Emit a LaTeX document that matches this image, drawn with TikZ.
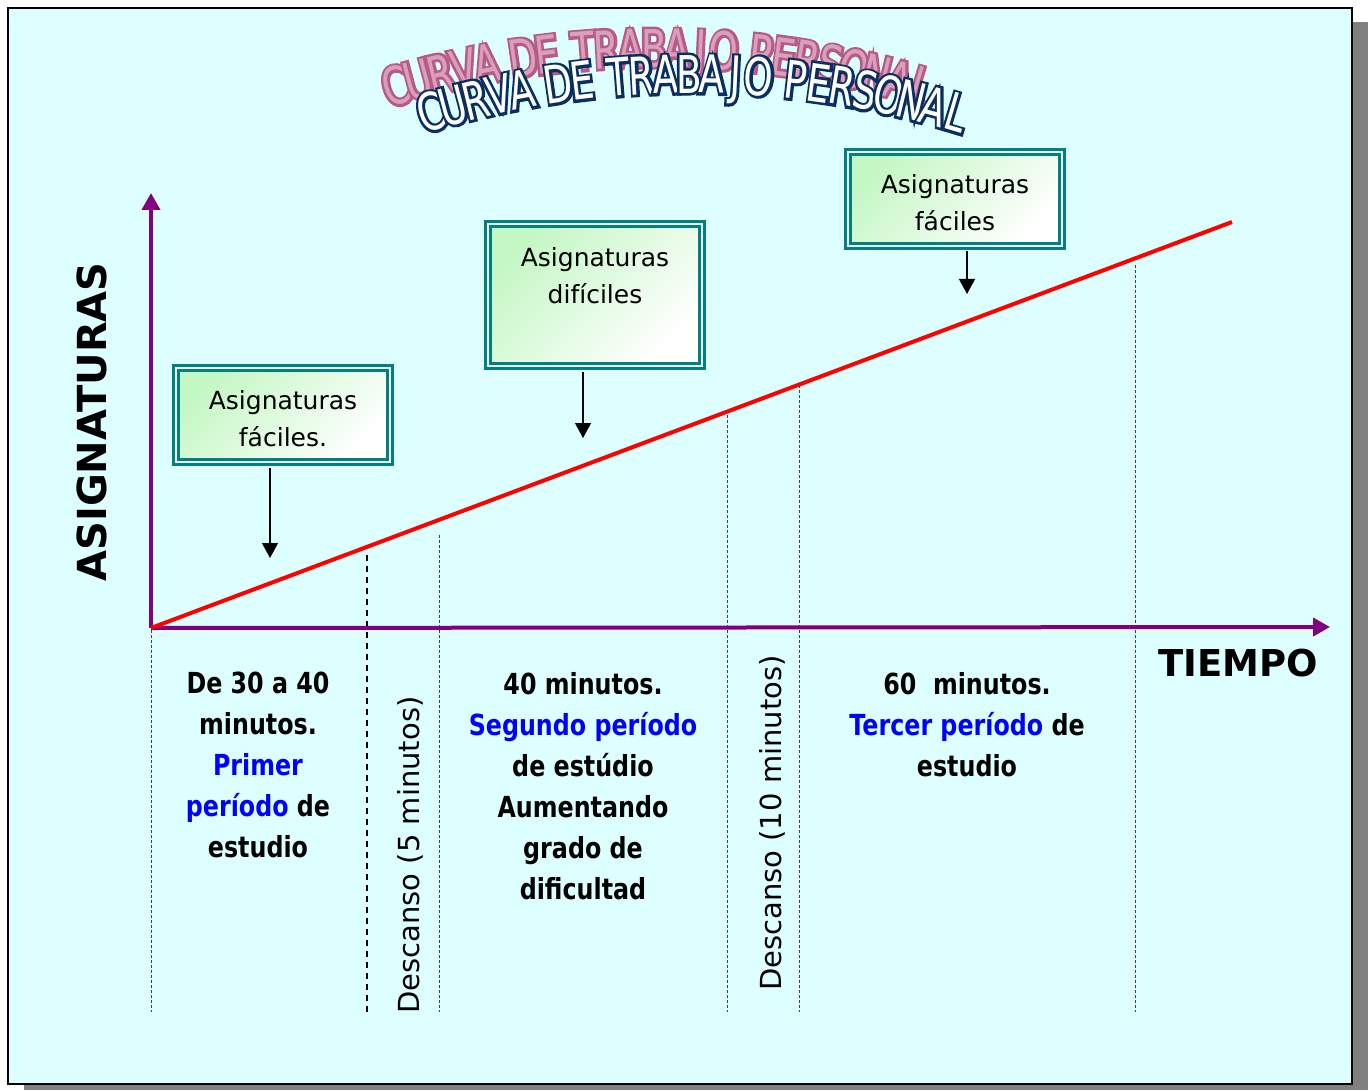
\documentclass[tikz,border=0pt]{standalone}
\usepackage{fontspec}
\setmainfont{DejaVu Sans}
\newfontfamily\bodyfont[FakeStretch=0.82]{DejaVu Sans}
\newfontfamily\titlefont[FakeStretch=0.72]{DejaVu Sans}
\newfontfamily\titlerim[FakeStretch=0.72,FakeBold=10]{DejaVu Sans}
\usetikzlibrary{arrows.meta}

\definecolor{panel}{HTML}{DDFFFF}
\definecolor{panelshadow}{HTML}{808080}
\definecolor{axispurple}{HTML}{800080}
\definecolor{boxteal}{HTML}{008080}
\definecolor{boxgreen}{HTML}{C4F7C4}
\definecolor{periodblue}{HTML}{0000FF}
\definecolor{titlenavy}{HTML}{0A2F5E}
\definecolor{titlepink}{HTML}{B85A86}
\definecolor{titlepinkfill}{HTML}{D9A0BC}

\begin{document}
\begin{tikzpicture}[x=0.5pt,y=-0.5pt,
    axis/.style={line width=2pt,axispurple,-{Triangle[length=8.5pt,width=9pt]}},
    guide/.style={line width=0.5pt,black!75,dash pattern=on 1.5pt off 1pt},
    subject/.style={draw=boxteal,line width=1.5pt,double=panel!40!white,double distance=1pt,
        top color=boxgreen,bottom color=white,shading angle=45,
        minimum width=107pt,minimum height=47pt,align=center,text height=32pt,
        font=\fontsize{12.5}{18.5}\selectfont},
    pointer/.style={line width=0.6pt,shorten <=2pt,-{Triangle[length=7.5pt,width=8pt]}},
    period/.style={anchor=north,inner sep=0pt,align=center,
        font=\bodyfont\bfseries\fontsize{14.5}{20.5}\selectfont},
    rest/.style={rotate=90,inner sep=0pt,font=\fontsize{14.5}{17}\selectfont},
    letter/.style={anchor=base,inner sep=0pt,font=\titlefont\fontsize{26}{26}\selectfont},
    rim/.style={anchor=base,inner sep=0pt,font=\titlerim\fontsize{26}{26}\selectfont},
  ]
  % page with its drop shadow
  \useasboundingbox (0,0) rectangle (1370,1091);
  \fill[white] (0,0) rectangle (1370,1091);
  \fill[panelshadow] (24,22) rectangle (1368,1090);
  \filldraw[fill=panel,draw=black,line width=1pt] (8,8) rectangle (1352,1084);

  % arched title: pink shadow, then the outlined letters
  \foreach \ch/\t in {C/-16.4,U/-14.95,R/-13.5,V/-12.05,A/-10.6,
                      D/-8.3,E/-6.85,
                      T/-4.55,R/-3.1,A/-1.65,B/-0.2,A/1.25,J/2.7,O/4.15,
                      P/6.45,E/7.9,R/9.35,S/10.8,O/12.25,N/13.7,A/15.15,L/16.6}{
    \node[rim,titlepink,rotate=-\t] at ([shift={(\t-90:907)}]657,974) {\ch};
    \node[letter,titlepinkfill,rotate=-\t] at ([shift={(\t-90:907)}]657,974) {\ch};
  }
  \foreach \ch/\t in {C/-16.4,U/-14.95,R/-13.5,V/-12.05,A/-10.6,
                      D/-8.3,E/-6.85,
                      T/-4.55,R/-3.1,A/-1.65,B/-0.2,A/1.25,J/2.7,O/4.15,
                      P/6.45,E/7.9,R/9.35,S/10.8,O/12.25,N/13.7,A/15.15,L/16.6}{
    \node[rim,titlenavy,rotate=-\t] at ([shift={(\t-90:907)}]692,1000) {\ch};
    \node[letter,white,rotate=-\t] at ([shift={(\t-90:907)}]692,1000) {\ch};
  }

  % time blocks
  \foreach \x/\top in {151/630,439/535,727/410,799/385,1135/265}
    \draw[guide] (\x,\top) -- (\x,1012);
  \draw[black,line width=0.8pt,dash pattern=on 3pt off 2.5pt] (367,555) -- (367,1012);

  % axes and the work curve
  \coordinate (O)        at (151,628);
  \coordinate (ytop)     at (151,193);
  \coordinate (xend)     at (1330,627);
  \coordinate (curveend) at (1232,222);
  \draw[axis] (O) -- (ytop);
  \draw[axis] (O) -- (xend);
  \draw[red,line width=2pt] (O) -- (curveend);

  \node[rotate=90,font=\bfseries\fontsize{20}{20}\selectfont] (yname) at (92,422) {ASIGNATURAS};
  \node[font=\bfseries\fontsize{18.5}{20}\selectfont] (xname) at (1238,663) {TIEMPO};

  % subjects along the curve
  \node[subject] (easy1) at (283,415) {Asignaturas\\fáciles.};
  \node[subject,minimum height=71pt,text depth=24pt] (hard) at (595,295) {Asignaturas\\difíciles};
  \node[subject] (easy2) at (955,199) {Asignaturas\\fáciles};
  \coordinate (easy1tip) at (270,558);
  \coordinate (hardtip)  at (583,438);
  \coordinate (easy2tip) at (967,294);
  \draw[pointer] (easy1.south -| easy1tip) -- (easy1tip);
  \draw[pointer] (hard.south -| hardtip) -- (hardtip);
  \draw[pointer] (easy2.south -| easy2tip) -- (easy2tip);

  % study periods and rests
  \node[period] (first)  at (258,672) {De 30 a 40\\minutos.\\\textcolor{periodblue}{Primer}\\\textcolor{periodblue}{período} de\\estudio};
  \node[period] (second) at (583,672) {40 minutos.\\\textcolor{periodblue}{Segundo período}\\de estúdio\\Aumentando\\grado de\\dificultad};
  \node[period] (third)  at (967,672) {60~ minutos.\\\textcolor{periodblue}{Tercer período} de\\estudio};
  \node[rest] (rest1) at (410,855) {Descanso (5 minutos)};
  \node[rest] (rest2) at (772,823) {Descanso (10 minutos)};
\end{tikzpicture}
\end{document}
